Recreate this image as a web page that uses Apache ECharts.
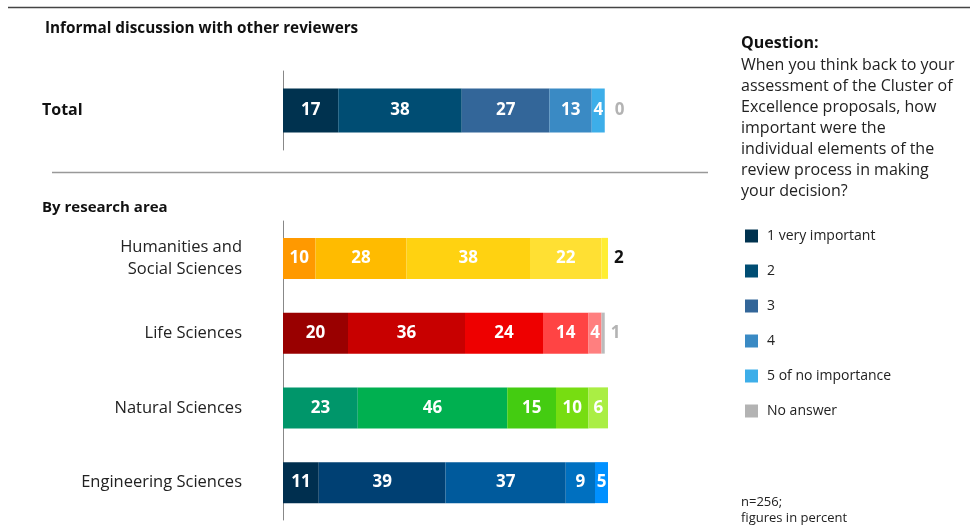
<!DOCTYPE html>
<html><head><meta charset="utf-8">
<script src="https://cdn.jsdelivr.net/npm/echarts@6/dist/echarts.min.js"></script>
<style>html,body{margin:0;padding:0;background:#fff}#c{width:970px;height:529px}</style>
</head><body><div id="c"></div>
<script>
// ---- data ----
const seriesNames = ['1 very important', '2', '3', '4', '5 of no importance', 'No answer'];
const totalCategory = ['Total'];
const totalValues = [17, 38, 27, 13, 4, 0];
const areaCategories = ['Humanities and\nSocial Sciences', 'Life Sciences', 'Natural Sciences', 'Engineering Sciences'];
const level1 = [10, 20, 23, 11];
const level2 = [28, 36, 46, 39];
const level3 = [38, 24, 15, 37];
const level4 = [22, 14, 10, 9];
const level5 = [2, 4, 6, 5];
const noAnswer = [null, 1, null, null];
const areaLevels = [level1, level2, level3, level4, level5, noAnswer];

// ---- styles ----
const FONT = 'Open Sans';
const totalColors = ['#00324f', '#004d73', '#336699', '#3a8ac4', '#3daee9', '#b3b3b3'];
const areaColors = [
  ['#ff9900', '#ffbb00', '#ffd211', '#ffe033', '#ffee33', '#b3b3b3'],
  ['#990000', '#c80000', '#ee0000', '#ff4444', '#ff7f7f', '#bbbbbb'],
  ['#00966a', '#00b050', '#44cc11', '#77dd11', '#aaee44', '#bbbbbb'],
  ['#002f4f', '#004073', '#005a9c', '#0070c0', '#0090ff', '#bbbbbb']
];
const insideLabel = {show: true, position: 'inside', color: '#fff', fontWeight: 'bold', fontSize: 17, fontFamily: FONT};
const outsideGray = {show: true, position: 'right', distance: 6, color: '#b3b3b3', fontWeight: 'bold', fontSize: 17, fontFamily: FONT};
const outsideBlack = {show: true, position: 'right', distance: 6, color: '#111', fontWeight: 'bold', fontSize: 17, fontFamily: FONT};

const series = [];
seriesNames.forEach((name, i) => {
  series.push({
    name, type: 'bar', stack: 't', xAxisIndex: 0, yAxisIndex: 0, barWidth: 44,
    itemStyle: {color: totalColors[i]},
    label: i === 5 ? Object.assign({}, outsideGray, {distance: 10}) : insideLabel,
    data: [totalValues[i]]
  });
});
seriesNames.forEach((name, i) => {
  series.push({
    name, type: 'bar', stack: 'a', xAxisIndex: 1, yAxisIndex: 1, barWidth: 41,
    itemStyle: {color: totalColors[i]},
    label: i === 5 ? outsideGray : insideLabel,
    data: areaLevels[i].map((v, r) => {
      const item = {value: v, itemStyle: {color: areaColors[r][i]}};
      if (i === 4 && r === 0) item.label = outsideBlack;
      return item;
    })
  });
});

const chart = echarts.init(document.getElementById('c'), null, {renderer: 'canvas'});
chart.setOption({
  animation: false,
  textStyle: {fontFamily: FONT},
  grid: [
    {left: 283, width: 325, top: 71, height: 79},
    {left: 283, width: 325, top: 221, height: 299}
  ],
  xAxis: [
    {gridIndex: 0, type: 'value', min: 0, max: 100, show: false},
    {gridIndex: 1, type: 'value', min: 0, max: 100, show: false}
  ],
  yAxis: [
    {gridIndex: 0, type: 'category', data: totalCategory,
     axisLine: {show: true, lineStyle: {color: '#888', width: 1}}, axisTick: {show: false},
     axisLabel: {align: 'left', margin: 241, fontSize: 16, fontWeight: 'bold', color: '#111', fontFamily: FONT}},
    {gridIndex: 1, type: 'category', data: areaCategories, inverse: true,
     axisLine: {show: true, lineStyle: {color: '#888', width: 1}}, axisTick: {show: false},
     axisLabel: {align: 'right', margin: 41, fontSize: 16.5, lineHeight: 22, color: '#222', fontFamily: FONT}}
  ],
  legend: {
    orient: 'vertical', left: 740, top: 224, itemWidth: 13, itemHeight: 13, itemGap: 21,
    icon: 'rect', selectedMode: false,
    data: seriesNames,
    textStyle: {fontSize: 14, color: '#222', fontFamily: FONT, padding: [0, 0, 0, 4]}
  },
  graphic: [
    {type: 'line', shape: {x1: 8, y1: 7.5, x2: 970, y2: 7.5}, style: {stroke: '#444', lineWidth: 1.5}},
    {type: 'line', shape: {x1: 52, y1: 172.5, x2: 708, y2: 172.5}, style: {stroke: '#999', lineWidth: 1.5}},
    {type: 'text', left: 45, top: 21, style: {text: 'Informal discussion with other reviewers', font: 'bold 15.3px "Open Sans"', fill: '#111'}},
    {type: 'text', left: 42, top: 200, style: {text: 'By research area', font: 'bold 15px "Open Sans"', fill: '#111'}},
    {type: 'text', left: 741, top: 35, style: {text: 'Question:', font: 'bold 16px "Open Sans"', fill: '#111'}},
    {type: 'text', left: 741, top: 55, style: {
      text: 'When you think back to your\nassessment of the Cluster of\nExcellence proposals, how\nimportant were the\nindividual elements of the\nreview process in making\nyour decision?',
      font: '16px "Open Sans"', lineHeight: 21, fill: '#222'}},
    {type: 'text', left: 741, top: 494, style: {text: 'n=256;\nfigures in percent', font: '13px "Open Sans"', lineHeight: 16, fill: '#222'}}
  ],
  series
});
</script></body></html>
